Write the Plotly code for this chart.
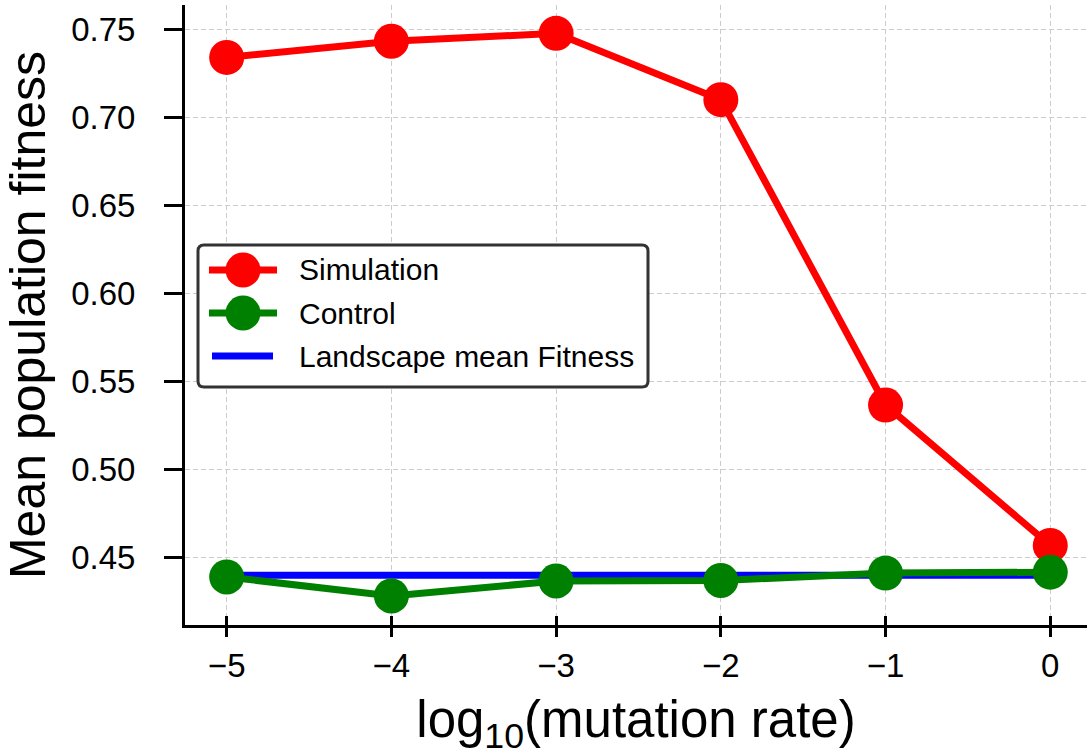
import plotly.graph_objects as go

# Data
log_mu = [-5, -4, -3, -2, -1, 0]
simulation = [0.7340, 0.7432, 0.7477, 0.7100, 0.5365, 0.4567]
control = [0.4388, 0.4280, 0.4365, 0.4368, 0.4410, 0.4415]
landscape_mean = [0.4397, 0.4397, 0.4397, 0.4397, 0.4397, 0.4397]

x_ticks = [-5, -4, -3, -2, -1, 0]
y_ticks = [0.45, 0.50, 0.55, 0.60, 0.65, 0.70, 0.75]
y_ticklabels = ["0.45", "0.50", "0.55", "0.60", "0.65", "0.70", "0.75"]

series_names = ["Simulation", "Control", "Landscape mean Fitness"]
series_colors = ["#ff0000", "#008000", "#0000ff"]
series_markers = [True, True, False]

FONT = "Liberation Sans, Arial, sans-serif"
XR = [-5.253, 0.223]
YR = [0.4115, 0.7638]

W, H = 1087, 756
ML, MR, MT, MB = 185, 0, 5, 131
PW, PH = W - ML - MR, H - MT - MB


def px(xp):
    return (xp - ML) / PW


def py(yp):
    return (H - MB - yp) / PH


fig = go.Figure()
fig.add_trace(go.Scatter(
    x=log_mu, y=simulation, mode="lines+markers", name=series_names[0],
    line=dict(color=series_colors[0], width=7), marker=dict(color=series_colors[0], size=35),
    cliponaxis=False))
fig.add_trace(go.Scatter(
    x=log_mu, y=landscape_mean, mode="lines", name=series_names[2],
    line=dict(color=series_colors[2], width=7)))
fig.add_trace(go.Scatter(
    x=log_mu, y=control, mode="lines+markers", name=series_names[1],
    line=dict(color=series_colors[1], width=7), marker=dict(color=series_colors[1], size=35),
    cliponaxis=False))
# invisible trace for the inner tick axis
fig.add_trace(go.Scatter(x=[log_mu[0]], y=[control[0]], xaxis="x2", mode="markers",
                         marker=dict(opacity=0), showlegend=False, hoverinfo="skip"))

# ---- manual legend (matplotlib-like, with large markers) ----
shapes = []
annotations = []
bx0, bx1, by0, by1, r = 198, 648, 245, 387, 6
rx, ry = r / PW, r / PH
X0, X1, Y0, Y1 = px(bx0), px(bx1), py(by1), py(by0)
path = (f"M {X0+rx},{Y0} L {X1-rx},{Y0} Q {X1},{Y0} {X1},{Y0+ry} "
        f"L {X1},{Y1-ry} Q {X1},{Y1} {X1-rx},{Y1} L {X0+rx},{Y1} "
        f"Q {X0},{Y1} {X0},{Y1-ry} L {X0},{Y0+ry} Q {X0},{Y0} {X0+rx},{Y0} Z")
shapes.append(dict(type="path", path=path, xref="paper", yref="paper",
                   fillcolor="white", line=dict(color="#333333", width=3), layer="above"))
row_y = [270, 313, 356]
for name, col, mk, yy in zip(series_names, series_colors, series_markers, row_y):
    if mk:
        shapes.append(dict(type="line", xref="paper", yref="paper",
                           x0=px(209), x1=px(277), y0=py(yy), y1=py(yy),
                           line=dict(color=col, width=7), layer="above"))
        shapes.append(dict(type="circle", xref="paper", yref="paper",
                           xsizemode="pixel", ysizemode="pixel",
                           xanchor=px(243), yanchor=py(yy),
                           x0=-17.5, x1=17.5, y0=-17.5, y1=17.5,
                           fillcolor=col, line=dict(width=0), layer="above"))
    else:
        shapes.append(dict(type="line", xref="paper", yref="paper",
                           x0=px(212), x1=px(273), y0=py(yy), y1=py(yy),
                           line=dict(color=col, width=7), layer="above"))
    annotations.append(dict(text=name, xref="paper", yref="paper", x=px(297), y=py(yy),
                            xanchor="left", yanchor="middle", showarrow=False,
                            font=dict(size=30, family=FONT, color="black")))

fig.update_layout(
    width=W, height=H,
    margin=dict(l=ML, r=MR, t=MT, b=MB),
    paper_bgcolor="white", plot_bgcolor="white",
    font=dict(family=FONT, color="black"),
    showlegend=False, hovermode=False,
    shapes=shapes, annotations=annotations,
    xaxis=dict(
        range=XR, tickmode="array", tickvals=x_ticks, automargin=False,
        showline=True, linecolor="black", linewidth=3,
        ticks="outside", ticklen=9, tickwidth=3, tickcolor="black",
        tickfont=dict(size=33, family=FONT), ticklabelstandoff=0,
        showgrid=True, gridcolor="#cccccc", gridwidth=1, griddash="5px,3px",
        zeroline=False,
        title=dict(text="log<sub>10</sub>(mutation rate)", font=dict(size=51, family=FONT), standoff=22),
    ),
    xaxis2=dict(
        range=XR, overlaying="x", side="bottom", anchor="y", automargin=False,
        tickmode="array", tickvals=x_ticks, showticklabels=False,
        ticks="inside", ticklen=9, tickwidth=3, tickcolor="black",
        showgrid=False, zeroline=False, showline=False,
    ),
    yaxis=dict(
        range=YR, tickmode="array", tickvals=y_ticks, ticktext=y_ticklabels, automargin=False,
        showline=True, linecolor="black", linewidth=3,
        ticks="outside", ticklen=18, tickwidth=3, tickcolor="black",
        tickfont=dict(size=33, family=FONT), ticklabelstandoff=22,
        showgrid=True, gridcolor="#cccccc", gridwidth=1, griddash="5px,3px",
        zeroline=False,
        title=dict(text="Mean population fitness", font=dict(size=50, family=FONT), standoff=14),
    ),
)

fig.write_html("out.html", config={"displayModeBar": False},
               post_script="document.body.style.margin='0';document.body.style.padding='0';")
